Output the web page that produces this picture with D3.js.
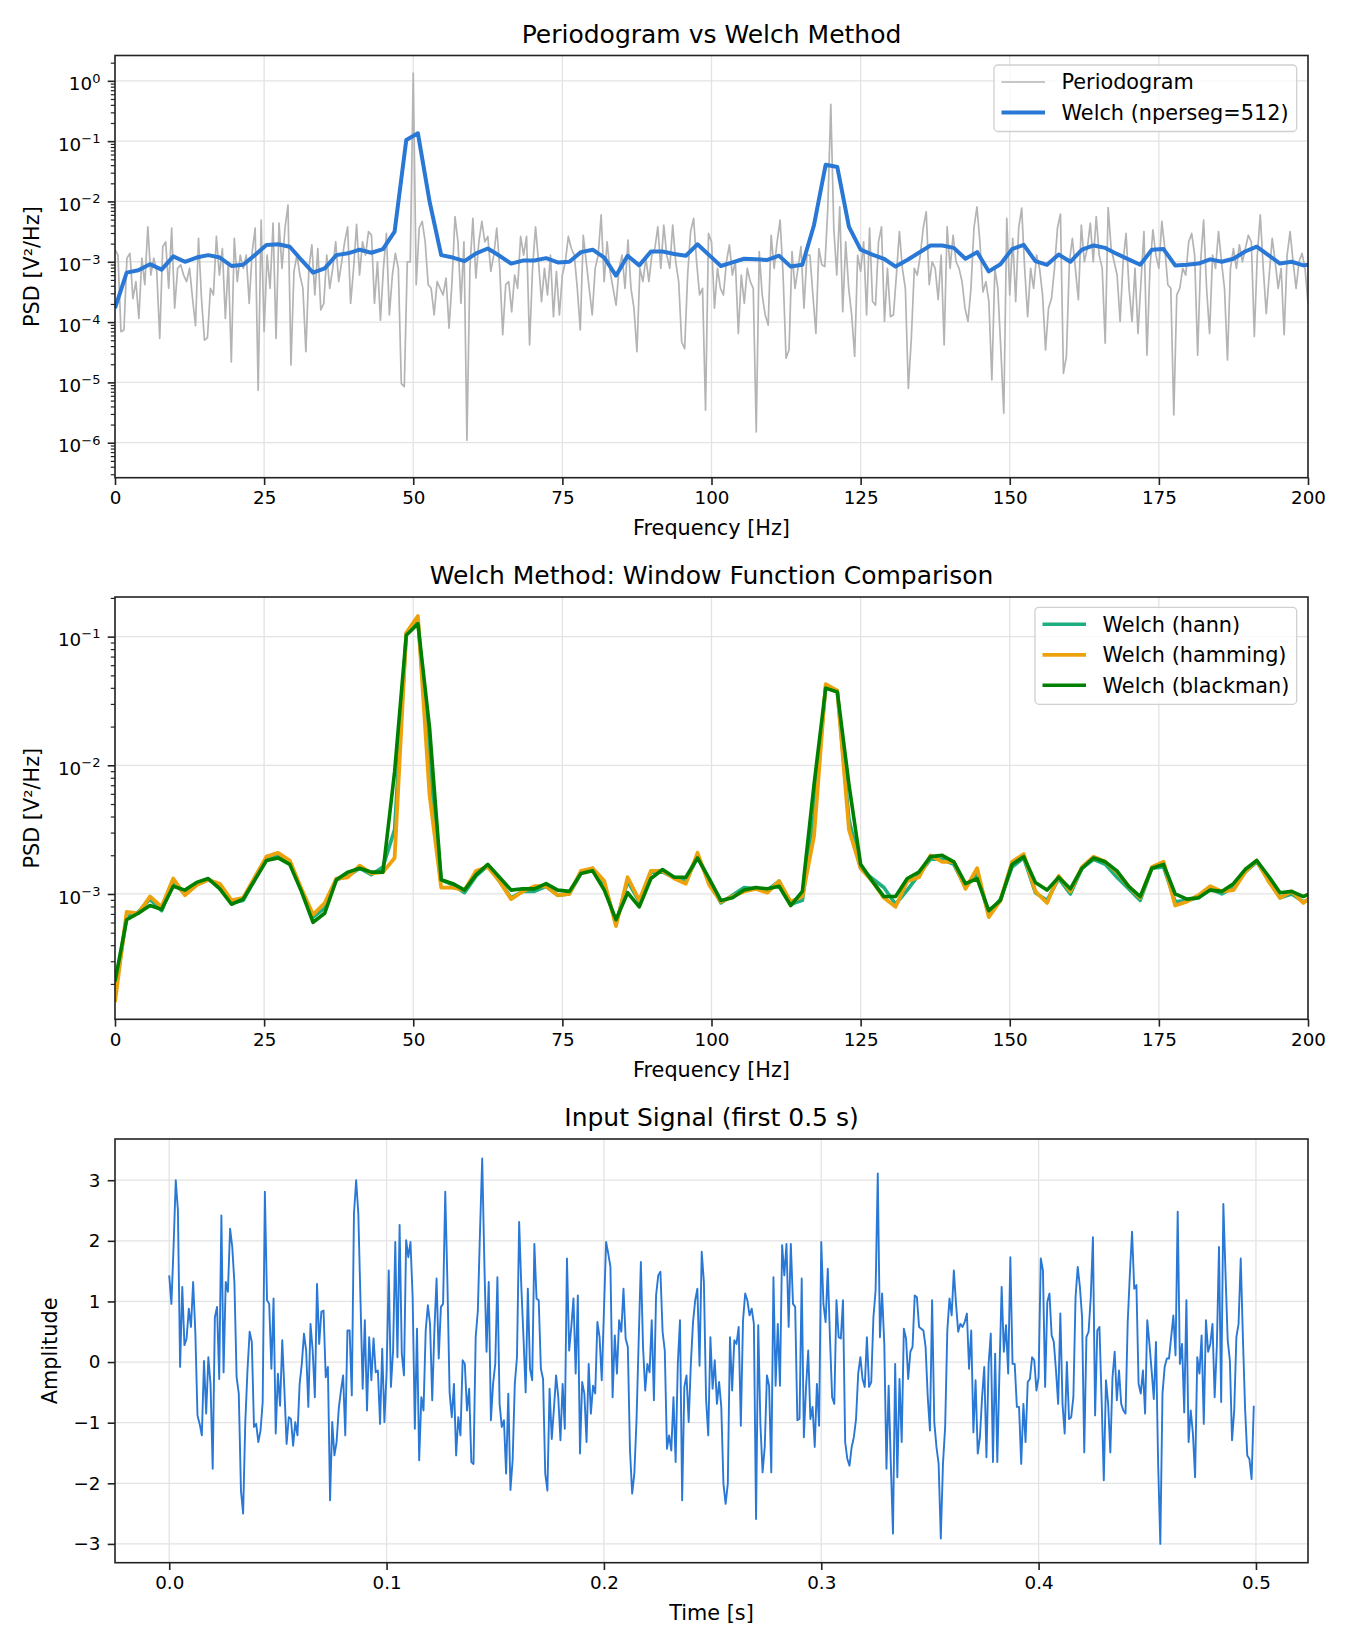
<!DOCTYPE html>
<html>
<head>
<meta charset="utf-8">
<script src="https://cdn.jsdelivr.net/npm/d3@7"></script>
<style>body { margin: 0; background: #fff; }</style>
</head>
<body>
<script>
const width = 1350
const height = 1650

// periodogram, 0.5 Hz bins 0..200 Hz, stored as log10(PSD)
const periodogramLog = [
  -2.80,-2.89,-4.16,-4.13,-2.94,-2.86,-3.61,-3.33,-3.94,-2.94,
  -3.38,-2.42,-3.22,-2.94,-3.16,-4.27,-2.75,-2.67,-3.44,-2.44,
  -3.77,-3.11,-3.05,-3.22,-3.33,-3.11,-3.61,-4.06,-2.61,-3.61,
  -4.30,-4.26,-3.44,-3.55,-2.58,-3.22,-2.78,-3.94,-3.00,-4.66,
  -2.61,-3.33,-2.89,-3.11,-2.89,-3.69,-2.83,-2.44,-5.13,-2.31,
  -4.16,-2.89,-3.44,-2.36,-4.27,-2.36,-3.11,-2.44,-2.06,-4.71,
  -3.16,-2.89,-3.22,-3.44,-4.49,-3.11,-2.72,-3.55,-2.78,-3.80,
  -3.69,-2.89,-3.44,-3.11,-2.67,-3.33,-3.00,-2.67,-2.42,-3.69,
  -3.11,-2.38,-3.22,-2.67,-2.89,-2.50,-2.56,-3.69,-3.00,-3.97,
  -3.11,-2.53,-3.88,-3.22,-2.86,-3.11,-5.02,-5.07,-3.00,-3.00,
  0.13,-3.38,-2.44,-2.33,-2.67,-3.38,-3.44,-3.88,-3.33,-3.44,
  -3.55,-3.27,-4.10,-3.33,-2.25,-2.67,-3.69,-2.67,-5.96,-3.11,
  -2.28,-3.27,-2.67,-2.33,-2.67,-2.58,-3.16,-2.89,-2.44,-3.11,
  -4.21,-3.38,-3.33,-3.83,-3.22,-3.44,-2.58,-2.89,-2.58,-4.38,
  -3.11,-2.42,-3.00,-3.66,-3.11,-3.55,-2.89,-3.91,-3.16,-3.88,
  -3.22,-3.00,-2.58,-2.78,-2.89,-3.44,-4.13,-2.56,-3.00,-3.44,
  -3.88,-3.11,-2.89,-2.22,-3.33,-2.67,-3.16,-3.44,-3.72,-3.11,
  -2.89,-3.44,-2.64,-3.44,-3.77,-4.49,-3.11,-3.33,-2.94,-3.33,
  -2.89,-2.78,-2.42,-3.11,-2.39,-2.89,-3.11,-2.39,-3.00,-3.33,
  -4.33,-4.44,-3.22,-2.50,-2.28,-3.00,-3.55,-3.44,-5.46,-2.53,
  -2.67,-3.77,-3.11,-3.44,-3.55,-3.00,-2.72,-3.22,-3.00,-4.19,
  -3.22,-3.69,-3.11,-3.33,-3.44,-5.82,-2.83,-3.55,-3.88,-4.05,
  -2.56,-3.11,-2.67,-2.31,-3.22,-4.60,-4.46,-2.83,-3.44,-3.11,
  -2.75,-3.77,-2.89,-2.89,-3.55,-4.19,-2.78,-3.05,-3.08,-2.11,
  -0.39,-2.44,-3.22,-2.09,-3.83,-2.67,-3.44,-3.88,-4.57,-2.89,
  -3.16,-2.67,-3.88,-2.44,-3.66,-3.72,-2.67,-2.42,-3.99,-3.11,
  -3.91,-3.88,-3.22,-2.50,-3.11,-3.44,-5.10,-4.27,-3.11,-3.22,
  -2.89,-2.44,-2.17,-3.38,-3.00,-3.11,-3.63,-2.89,-4.38,-2.42,
  -3.11,-2.56,-3.00,-3.11,-3.33,-3.77,-3.99,-3.44,-2.44,-2.09,
  -2.67,-3.50,-3.33,-3.66,-4.96,-3.11,-3.44,-4.44,-5.51,-2.28,
  -3.55,-2.61,-3.66,-2.44,-2.11,-3.11,-3.91,-3.11,-3.44,-2.89,
  -3.11,-3.55,-4.46,-3.77,-3.61,-3.11,-2.44,-2.21,-4.85,-4.57,
  -3.00,-2.61,-3.11,-3.63,-2.39,-3.00,-2.78,-2.36,-3.00,-2.25,
  -2.89,-3.11,-4.35,-2.10,-2.78,-3.00,-3.22,-3.99,-3.00,-2.53,
  -3.44,-3.99,-3.11,-4.19,-3.33,-2.50,-4.55,-3.11,-2.47,-2.89,
  -3.11,-2.33,-2.78,-3.38,-3.44,-5.54,-3.55,-3.44,-3.11,-3.22,
  -2.67,-2.53,-2.89,-4.55,-3.00,-2.31,-3.44,-4.19,-2.89,-3.11,
  -2.50,-3.00,-3.44,-4.63,-3.11,-2.78,-3.11,-2.72,-3.00,-2.78,
  -2.56,-2.67,-4.24,-2.89,-2.22,-3.11,-3.86,-3.22,-2.61,-3.00,
  -3.44,-3.11,-4.21,-2.89,-2.50,-3.00,-3.44,-3.00,-2.86,-3.11,
  -3.69
]

// welch estimates, nperseg=512 at 1 kHz, stored as log10(PSD)
const welchHannLog = [
  -3.77,-3.18,-3.14,-3.04,-3.13,-2.91,-3.00,-2.93,-2.89,-2.93,
  -3.07,-3.05,-2.89,-2.72,-2.71,-2.75,-2.97,-3.18,-3.11,-2.89,
  -2.86,-2.80,-2.85,-2.79,-2.50,-0.98,-0.87,-2.00,-2.89,-2.93,
  -2.99,-2.86,-2.78,-2.90,-3.03,-2.98,-2.98,-2.94,-3.01,-3.00,
  -2.84,-2.80,-2.93,-3.23,-2.90,-3.06,-2.83,-2.83,-2.87,-2.90,
  -2.71,-2.89,-3.07,-3.01,-2.95,-2.96,-2.97,-2.90,-3.08,-3.05,
  -2.39,-1.39,-1.43,-2.42,-2.80,-2.88,-2.95,-3.08,-2.97,-2.85,
  -2.73,-2.73,-2.77,-2.95,-2.84,-3.16,-3.04,-2.79,-2.72,-2.99,
  -3.05,-2.88,-3.00,-2.80,-2.73,-2.77,-2.87,-2.96,-3.05,-2.80,
  -2.79,-3.06,-3.05,-3.03,-2.96,-3.00,-2.95,-2.83,-2.75,-2.89,
  -3.03,-3.00,-3.06,-3.03
]
const welchHammingLog = [
  -3.84,-3.14,-3.15,-3.02,-3.10,-2.88,-3.01,-2.93,-2.89,-2.92,
  -3.05,-3.03,-2.87,-2.71,-2.68,-2.74,-2.96,-3.16,-3.07,-2.88,
  -2.87,-2.78,-2.84,-2.83,-2.72,-0.97,-0.84,-2.23,-2.95,-2.95,
  -2.97,-2.82,-2.79,-2.90,-3.04,-2.98,-2.94,-2.94,-3.01,-3.00,
  -2.82,-2.80,-2.90,-3.25,-2.87,-3.05,-2.82,-2.82,-2.88,-2.92,
  -2.68,-2.93,-3.06,-3.02,-2.98,-2.96,-2.99,-2.90,-3.06,-3.02,
  -2.55,-1.37,-1.42,-2.50,-2.80,-2.90,-3.03,-3.10,-2.90,-2.87,
  -2.70,-2.75,-2.75,-2.96,-2.80,-3.18,-3.05,-2.75,-2.69,-2.98,
  -3.07,-2.86,-2.98,-2.79,-2.71,-2.75,-2.83,-2.94,-3.03,-2.79,
  -2.75,-3.09,-3.06,-3.01,-2.94,-2.98,-2.97,-2.83,-2.74,-2.90,
  -3.03,-2.98,-3.07,-3.00
]
const welchBlackmanLog = [
  -3.68,-3.20,-3.15,-3.09,-3.12,-2.94,-2.97,-2.91,-2.88,-2.96,
  -3.08,-3.04,-2.89,-2.74,-2.72,-2.77,-2.98,-3.22,-3.15,-2.89,
  -2.83,-2.80,-2.83,-2.83,-2.05,-0.99,-0.90,-1.71,-2.89,-2.92,
  -2.97,-2.85,-2.77,-2.87,-2.97,-2.96,-2.96,-2.92,-2.97,-2.98,
  -2.84,-2.82,-2.97,-3.20,-2.99,-3.10,-2.88,-2.81,-2.87,-2.87,
  -2.72,-2.88,-3.05,-3.03,-2.97,-2.95,-2.96,-2.94,-3.09,-2.98,
  -2.15,-1.40,-1.43,-2.15,-2.77,-2.90,-3.02,-3.02,-2.88,-2.83,
  -2.71,-2.70,-2.75,-2.92,-2.88,-3.13,-3.05,-2.77,-2.71,-2.91,
  -2.97,-2.87,-2.96,-2.80,-2.72,-2.75,-2.82,-2.94,-3.02,-2.80,
  -2.77,-3.00,-3.04,-3.03,-2.97,-2.98,-2.92,-2.81,-2.74,-2.86,
  -2.99,-2.98,-3.02,-2.98
]

// input signal, first 500 samples at 1 kHz
const signal = [
  1.43,0.96,1.9,3.0,2.5,-0.08,1.24,0.28,0.39,0.88,
  0.58,1.32,0.5,-0.88,-1.02,-1.21,0.02,-0.85,0.08,-0.36,
  -1.76,0.74,0.91,-0.28,2.42,-0.17,1.32,1.16,2.2,1.9,
  1.3,-0.25,-0.52,-2.12,-2.50,-0.99,-0.14,0.5,0.33,-1.07,
  -1.02,-1.32,-1.13,-0.66,2.81,1.02,0.96,-0.11,1.05,-1.18,
  -0.19,-0.72,0.36,-0.47,-1.35,-0.91,-0.94,-1.38,-0.99,-1.21,
  -0.36,-0.03,0.47,0.19,-0.74,0.63,0.19,-0.58,1.29,0.3,
  0.83,0.85,-0.25,-0.08,-2.28,-0.99,-1.54,-1.32,-0.77,-0.47,
  -0.22,-1.21,0.52,0.52,-0.55,2.45,3.0,2.45,1.02,-0.44,
  0.69,-0.8,0.41,-0.3,0.39,-0.17,-0.14,-1.02,0.22,-0.99,
  -0.19,1.51,-0.41,0.19,1.98,0.08,2.26,0.14,-0.22,2.01,
  1.73,1.98,1.07,-1.1,0.55,-1.62,-0.58,
  -0.80,0.52,0.94,0.63,-0.63,0.52,1.38,0.06,0.91,0.96,
  2.81,1.30,-0.50,-0.91,-0.36,-1.54,-0.91,-1.21,0.03,-0.03,
  -0.80,-0.44,-1.65,-1.68,0.41,0.85,2.17,3.36,1.62,0.17,
  1.32,-0.96,-0.36,-0.03,1.40,-0.69,-1.07,-0.96,-1.84,-0.52,
  -2.11,-1.62,-0.36,0.08,2.31,1.24,0.40,-0.50,1.21,-0.11,
  -0.30,1.95,1.05,1.02,-0.11,-0.28,-1.84,-2.12,-0.44,-1.27,
  -0.77,-0.22,-0.58,-1.29,-0.36,-1.10,1.71,0.19,0.58,1.05,
  -0.19,1.10,-1.51,-0.33,-0.52,-1.32,-0.03,-0.85,-0.39,-0.52,
  0.66,0.41,-0.30,0.83,1.98,1.79,1.57,-0.58,0.44,-0.19,
  0.69,0.50,1.21,0.39,0.25,-1.46,-2.17,-1.84,-0.96,0.36,
  1.65,0.25,-0.47,-0.03,-0.17,0.69,-0.63,1.10,1.43,1.49,
  0.50,0.19,-1.43,-1.21,-1.46,-0.58,-1.65,-0.03,0.69,-2.28,
  -0.41,-0.22,-0.99,-0.03,0.66,1.02,1.21,-0.06,1.82,1.32,
  -0.61,-1.21,0.41,-0.44,0.03,-0.69,
  -0.33,-0.74,-2.01,-2.34,-2.01,0.41,-0.47,0.36,0.30,0.58,
  -1.05,0.69,1.13,1.02,0.77,0.88,0.63,-2.59,0.61,-1.02,
  -1.82,-1.40,-0.22,-0.39,-1.82,1.40,-0.39,0.63,-0.39,1.93,
  1.43,1.95,0.58,1.95,0.96,0.91,-0.96,-0.94,1.38,-1.24,
  -0.41,0.19,-0.94,-0.74,-1.40,-0.36,-1.05,1.98,0.96,0.66,
  1.54,0.41,-0.58,-0.69,1.02,0.41,0.39,1.02,-1.32,-1.60,
  -1.71,-1.40,-1.24,-0.94,-0.19,0.08,-0.28,-0.41,0.41,-0.41,
  -0.33,0.74,1.18,3.11,0.41,1.13,0.30,-1.76,-0.39,-1.68,
  -2.83,-0.03,-1.90,-0.28,-1.32,0.55,0.39,-0.28,0.17,0.25,
  1.10,1.07,0.58,0.55,0.52,0.25,-0.58,-1.13,1.02,-0.99,
  -1.40,-1.68,-2.91,-1.68,-1.07,0.52,1.05,0.77,1.51,0.96,
  0.50,0.63,0.58,0.66,0.80,-0.11,0.52,-1.16,-0.30,-1.51,
  -1.24,-0.58,-0.08,-1.57,-0.03,0.47,-1.65,0.14,-1.65,-0.14,
  1.24,0.17,0.61,-0.19,1.73,-0.03,-0.03,-0.74,
  -0.74,-1.68,-0.69,-1.32,-0.33,-0.28,0.08,0.03,-0.47,-0.25,
  1.71,1.51,-0.41,0.99,1.13,0.44,0.33,-0.14,-0.69,0.80,
  -0.69,-1.18,0.00,-0.94,-0.91,-0.58,1.07,1.57,1.24,0.74,
  -1.49,0.41,0.50,1.07,2.06,-0.88,0.52,0.58,-0.63,-1.95,
  -0.30,-0.69,-1.49,-0.25,0.17,-0.63,-0.14,-0.69,-0.80,-0.85,
  0.66,1.46,2.15,1.21,1.27,-0.36,-0.52,-0.14,-0.85,0.69,
  0.30,-0.14,-0.61,0.33,-1.68,-3.00,-0.52,-0.08,0.06,0.06,
  0.41,0.77,0.11,2.48,-0.03,0.30,-0.83,1.02,-1.32,-0.80,
  -1.18,-1.90,0.08,-0.19,0.44,-1.02,0.69,0.17,0.30,0.63,
  -0.58,0.25,1.90,-0.66,2.61,1.46,0.36,0.03,-1.29,-0.80,
  0.41,0.63,1.71,0.40,-0.77,-1.54,-1.60,-1.93,-0.72
]

const freqTicks = [0, 25, 50, 75, 100, 125, 150, 175, 200]
const timeTicks = [0, 0.1, 0.2, 0.3, 0.4, 0.5]
const ampTicks = [-3, -2, -1, 0, 1, 2, 3]
const topDecades = [0, -1, -2, -3, -4, -5, -6]
const midDecades = [-1, -2, -3]

const fs = 1000
const periodogramFreq = periodogramLog.map((_, i) => i * 0.5)
const welchFreq = welchHannLog.map((_, i) => (i * fs) / 512)
const time = signal.map((_, i) => i / fs)

const font = "DejaVu Sans"
const ink = "#222"
const gridColor = "#e3e3e3"
const tickFont = 18.3
const left = 115
const right = 1308

const svg = d3
    .select("body")
    .append("svg")
    .attr("width", width)
    .attr("height", height)
    .attr("viewBox", [0, 0, width, height])
    .style("font-family", font)

svg.append("rect").attr("width", width).attr("height", height).attr("fill", "#fff")

function minorTicks(y) {
    const [lo, hi] = y.domain()
    const out = []
    for (let e = -8; e <= 1; e++) {
        for (let m = 2; m <= 9; m++) {
            const v = m * 10 ** e
            if (v >= lo && v <= hi) out.push(v)
        }
    }
    return out
}

// builds grid, a clipped plot layer and axes on top
function panel(o) {
    const g = svg.append("g")
    g.append("clipPath")
        .attr("id", o.id)
        .append("rect")
        .attr("x", left)
        .attr("y", o.top)
        .attr("width", right - left)
        .attr("height", o.bottom - o.top)

    const grid = g.append("g").attr("stroke", gridColor).attr("stroke-width", 1.3)
    grid.selectAll("line.gx")
        .data(o.xTicks)
        .join("line")
        .attr("class", "gx")
        .attr("x1", (d) => o.x(d))
        .attr("x2", (d) => o.x(d))
        .attr("y1", o.top)
        .attr("y2", o.bottom)
    grid.selectAll("line.gy")
        .data(o.yTicks)
        .join("line")
        .attr("class", "gy")
        .attr("x1", left)
        .attr("x2", right)
        .attr("y1", (d) => o.y(d))
        .attr("y2", (d) => o.y(d))

    const plot = g.append("g").attr("clip-path", `url(#${o.id})`)
    const axes = g.append("g")

    const xa = axes
        .append("g")
        .attr("transform", `translate(0,${o.bottom})`)
        .call(d3.axisBottom(o.x).tickValues(o.xTicks).tickFormat(o.xFormat).tickSize(7.3).tickPadding(6.5))
    const ya = axes
        .append("g")
        .attr("transform", `translate(${left},0)`)
        .call(d3.axisLeft(o.y).tickValues(o.yTicks).tickFormat(o.yFormat || ((d) => d)).tickSize(7.3).tickPadding(7.3))

    if (o.log) {
        ya.selectAll(".tick text").each(function (d) {
            const e = Math.round(Math.log10(d))
            const t = d3.select(this).text(null).attr("dy", "0.5em")
            t.append("tspan").text("10")
            t.append("tspan")
                .attr("dy", "-0.6em")
                .attr("font-size", 13)
                .text(e < 0 ? "\u2212" + -e : String(e))
        })
        axes.append("g")
            .attr("transform", `translate(${left},0)`)
            .call(d3.axisLeft(o.y).tickValues(minorTicks(o.y)).tickFormat("").tickSize(4.2))
            .call((a) => a.selectAll(".tick line").attr("stroke", ink).attr("stroke-width", 1.2))
            .call((a) => a.select(".domain").remove())
    }

    for (const a of [xa, ya]) {
        a.select(".domain").remove()
        a.attr("font-family", font).attr("font-size", tickFont)
        a.selectAll(".tick line").attr("stroke", ink).attr("stroke-width", 1.6)
        a.selectAll(".tick text").attr("fill", "#000")
    }

    axes.append("rect")
        .attr("x", left)
        .attr("y", o.top)
        .attr("width", right - left)
        .attr("height", o.bottom - o.top)
        .attr("fill", "none")
        .attr("stroke", ink)
        .attr("stroke-width", 1.6)

    axes.append("text")
        .attr("x", (left + right) / 2)
        .attr("y", o.top - 13)
        .attr("text-anchor", "middle")
        .attr("font-size", 25)
        .text(o.title)
    axes.append("text")
        .attr("x", (left + right) / 2)
        .attr("y", o.bottom + 57.5)
        .attr("text-anchor", "middle")
        .attr("font-size", 20.8)
        .text(o.xLabel)
    axes.append("text")
        .attr("transform", `translate(${o.yLabelX},${(o.top + o.bottom) / 2}) rotate(-90)`)
        .attr("text-anchor", "middle")
        .attr("font-size", 20.8)
        .text(o.yLabel)

    return { plot, axes }
}

function legend(layer, x0, y0, w, items) {
    const h = items.length * 30.5 + 5.5
    layer.append("rect")
        .attr("x", x0)
        .attr("y", y0)
        .attr("width", w)
        .attr("height", h)
        .attr("rx", 4)
        .attr("fill", "#fff")
        .attr("fill-opacity", 0.8)
        .attr("stroke", "#d0d0d0")
        .attr("stroke-width", 1.3)
    items.forEach((it, i) => {
        const cy = y0 + 17 + i * 30.5
        layer.append("line")
            .attr("x1", x0 + 7.5)
            .attr("x2", x0 + 51)
            .attr("y1", cy)
            .attr("y2", cy)
            .attr("stroke", it.color)
            .attr("stroke-width", it.width)
        layer.append("text")
            .attr("x", x0 + 67.5)
            .attr("y", cy + 7.4)
            .attr("font-size", 20.8)
            .text(it.label)
    })
}

const pairsLog = (xs, ls) => xs.map((x, i) => [x, 10 ** ls[i]])

// --- top: periodogram vs welch
const xTop = d3.scaleLinear().domain([0, 200]).range([left, right])
const yTop = d3.scaleLog().domain([10 ** -6.58, 10 ** 0.42]).range([477.7, 55.5])
const topPanel = panel({
    id: "clipTop", top: 55.5, bottom: 477.7, x: xTop, y: yTop,
    xTicks: freqTicks, xFormat: (d) => d, yTicks: topDecades.map((e) => 10 ** e), log: true,
    title: "Periodogram vs Welch Method", xLabel: "Frequency [Hz]", yLabel: "PSD [V\u00b2/Hz]", yLabelX: 38.5,
})
const lineTop = d3.line().x((d) => xTop(d[0])).y((d) => yTop(d[1]))
topPanel.plot.append("path")
    .attr("d", lineTop(pairsLog(periodogramFreq, periodogramLog)))
    .attr("fill", "none")
    .attr("stroke", "#b4b4b4")
    .attr("stroke-width", 1.7)
    .attr("stroke-linejoin", "round")
topPanel.plot.append("path")
    .attr("d", lineTop(pairsLog(welchFreq, welchHannLog)))
    .attr("fill", "none")
    .attr("stroke", "#2a78d6")
    .attr("stroke-width", 4)
    .attr("stroke-linejoin", "round")
legend(topPanel.axes, 994, 65, 302.7, [
    { label: "Periodogram", color: "#b4b4b4", width: 1.7 },
    { label: "Welch (nperseg=512)", color: "#2a78d6", width: 4 },
])

// --- middle: window comparison
const xMid = d3.scaleLinear().domain([0, 200]).range([left, right])
const yMid = d3.scaleLog().domain([10 ** -3.974, 10 ** -0.692]).range([1019.3, 597])
const midPanel = panel({
    id: "clipMid", top: 597, bottom: 1019.3, x: xMid, y: yMid,
    xTicks: freqTicks, xFormat: (d) => d, yTicks: midDecades.map((e) => 10 ** e), log: true,
    title: "Welch Method: Window Function Comparison", xLabel: "Frequency [Hz]", yLabel: "PSD [V\u00b2/Hz]", yLabelX: 38.5,
})
const lineMid = d3.line().x((d) => xMid(d[0])).y((d) => yMid(d[1]))
const windows = [
    { label: "Welch (hann)", values: welchHannLog, color: "#1daf82", width: 3.6 },
    { label: "Welch (hamming)", values: welchHammingLog, color: "#eda20c", width: 3.8 },
    { label: "Welch (blackman)", values: welchBlackmanLog, color: "#008000", width: 3.6 },
]
midPanel.plot.selectAll("path")
    .data(windows)
    .join("path")
    .attr("d", (d) => lineMid(pairsLog(welchFreq, d.values)))
    .attr("fill", "none")
    .attr("stroke", (d) => d.color)
    .attr("stroke-width", (d) => d.width)
    .attr("stroke-linejoin", "round")
legend(midPanel.axes, 1035, 607.3, 261.7, windows)

// --- bottom: time signal
const xBot = d3.scaleLinear().domain([-0.02495, 0.52395]).range([left, right])
const yBot = d3.scaleLinear().domain([-3.31, 3.68]).range([1562.7, 1139])
const botPanel = panel({
    id: "clipBot", top: 1139, bottom: 1562.7, x: xBot, y: yBot,
    xTicks: timeTicks, xFormat: d3.format(".1f"), yTicks: ampTicks,
    yFormat: (d) => (d < 0 ? "\u2212" + -d : String(d)),
    title: "Input Signal (first 0.5 s)", xLabel: "Time [s]", yLabel: "Amplitude", yLabelX: 57,
})
const lineBot = d3.line().x((d, i) => xBot(time[i])).y((d) => yBot(d))
botPanel.plot.append("path")
    .attr("d", lineBot(signal))
    .attr("fill", "none")
    .attr("stroke", "#2a78d6")
    .attr("stroke-width", 1.9)
    .attr("stroke-linejoin", "round")
</script>
</body>
</html>
